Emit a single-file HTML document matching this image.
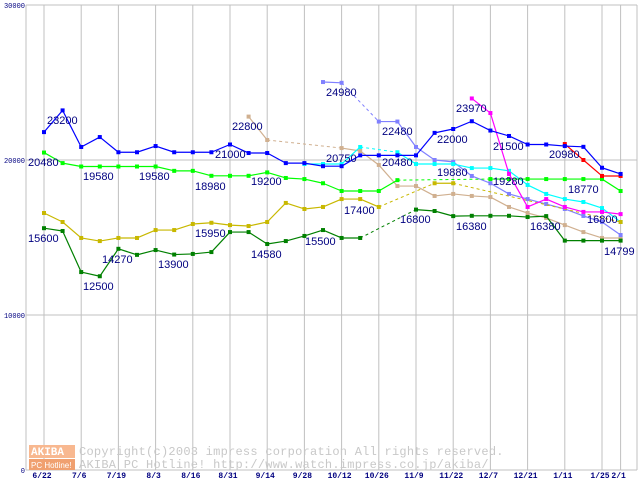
<!DOCTYPE html>
<html><head><meta charset="utf-8"><style>
body{margin:0;background:#fff}
svg{display:block;font-family:"Liberation Sans",sans-serif}
</style></head><body>
<svg id="chart" width="640" height="480" viewBox="0 0 640 480" xmlns="http://www.w3.org/2000/svg">
<g id="grid"></g>
<g id="watermark">
 <rect x="29" y="445" width="46" height="13" fill="#f8b890"/>
 <text x="31" y="455" font-size="11" fill="#fff" font-family="Liberation Mono, monospace" font-weight="bold">AKIBA</text>
 <rect x="29" y="459" width="46" height="11" fill="#f0a070"/>
 <text x="31" y="468" font-size="8" fill="#fff">PC Hotline!</text>
 <text x="79" y="455" font-size="12" fill="#c8c8c8" letter-spacing="0.25" font-family="Liberation Mono, monospace">Copyright(c)2003 impress corporation All rights reserved.</text>
 <text x="79" y="468" font-size="12" fill="#c8c8c8" letter-spacing="0.25" font-family="Liberation Mono, monospace">AKIBA PC Hotline!  http://www.watch.impress.co.jp/akiba/</text>
</g>
<g id="series"></g>
<g id="labels"></g>
</svg>
<script>
const xLabels=["6/22","7/6","7/19","8/3","8/16","8/31","9/14","9/28","10/12","10/26","11/9","11/22","12/7","12/21","1/11","1/25","2/1"];
const xLabelIdx=[0,2,4,6,8,10,12,14,16,18,20,22,24,26,28,30,31];
const yTicks=[0,10000,20000,30000];
const N=null;
const blue=[21800,23200,20840,21480,20500,20500,20900,20500,20500,20500,21000,20450,20450,19800,19800,19600,19600,20300,20300,20300,20300,21750,22000,22500,21900,21550,21000,21000,20900,20850,19500,19100];
const lime=[20480,19800,19580,19580,19580,19580,19580,19300,19300,18980,18980,18980,19200,18840,18770,18500,18000,18000,18000,18700,N,N,N,N,18770,18770,18770,18770,18770,18770,18770,18000];
const olive=[16580,16000,14970,14770,14970,14970,15480,15480,15870,15950,15800,15740,16000,17230,16840,16970,17480,17480,16970,N,N,18500,18500,N,N,N,N,N,N,N,N,16000];
const dgreen=[15600,15420,12770,12500,14270,13880,14190,13900,13940,14060,15350,15350,14580,14770,15100,15480,14970,14970,N,N,16800,16710,16380,16400,16400,16400,16320,16380,14799,14799,14799,14799];
const tan=[N,N,N,N,N,N,N,N,N,N,N,22800,21290,N,N,N,20770,20580,19680,18320,18320,17680,17810,17680,17610,16970,16580,16260,15800,15350,14970,14970];
const peri=[N,N,N,N,N,N,N,N,N,N,N,N,N,N,N,25030,24980,N,22480,22480,20840,20000,19880,18970,18500,17810,17480,17160,16840,16390,16000,15160];
const cyan=[N,N,N,N,N,N,N,N,N,N,N,N,N,N,19740,19740,19740,20840,N,20500,19740,19740,19740,19480,19480,19300,18390,17810,17480,17290,16900,16000];
const magenta=[N,N,N,N,N,N,N,N,N,N,N,N,N,N,N,N,N,N,N,N,N,N,N,23970,23030,19100,16970,17480,16970,16650,16650,16510];
const red=[N,N,N,N,N,N,N,N,N,N,N,N,N,N,N,N,N,N,N,N,N,N,N,N,N,N,N,N,21030,20000,18970,18970];
const seriesList=[["tan",tan,"#d0b090"],["periwinkle",peri,"#8080ff"],["cyan",cyan,"#00ffff"],["olive",olive,"#c8b800"],["lime",lime,"#00ff00"],["dark-green",dgreen,"#008000"],["magenta",magenta,"#ff00ff"],["red",red,"#ff0000"],["blue",blue,"#0000ff"]];
const labelText=["23200","22800","20480","21000","19580","19580","18980","19200","15600","15950","14270","13900","14580","12500","15500","24980","22480","20750","20480","22000","23970","19880","21500","19280","20980","17400","16800","16380","16380","18770","16800","14799"];
const labelPos=[[47,124],[232,130],[28,166],[215,158],[83,180],[139,180],[195,190],[251,185],[28,242],[195,237],[102,263],[158,268],[251,258],[83,290],[305,245],[326,96],[382,135],[326,162],[382,166],[437,143],[456,112],[437,176],[493,150],[493,185],[549,158],[344,214],[400,223],[456,230],[530,230],[568,193],[587,223],[604,255]];
const NS="http://www.w3.org/2000/svg";
const X=i=>44+18.6*i, Y=v=>470-v*0.0155;
function mk(t,a,p){const e=document.createElementNS(NS,t);for(const k in a)e.setAttribute(k,a[k]);p.appendChild(e);return e;}
const grid=document.getElementById('grid');
const gx=[26].concat(xLabelIdx.map(X)).concat([637]);
gx.forEach(x=>{const l=mk('line',{x1:x,x2:x,y1:5,y2:470,stroke:'#c0c0c0','stroke-width':1},grid);

});
yTicks.forEach(v=>{const l=mk('line',{x1:26,x2:637,y1:Y(v),y2:Y(v),stroke:'#c0c0c0','stroke-width':1},grid);


const t=mk('text',{x:25,y:Y(v)+3,'font-size':7,'text-anchor':'end',fill:'#000080','font-family':'Liberation Mono, monospace'},grid);t.textContent=v;

});
xLabels.forEach((s,k)=>{const t=mk('text',{x:X(xLabelIdx[k])-2,y:478,'font-size':8,'text-anchor':'middle',fill:'#000080','font-weight':'bold','font-family':'Liberation Mono, monospace'},grid);t.textContent=s;

});
const sl=document.getElementById('series');
seriesList.forEach(([name,vals,col])=>{const g=mk('g',{},sl);


let prev=-1;
vals.forEach((v,i)=>{if(v===null)return;
if(prev>=0){const gap=i-prev>1;mk('line',{x1:X(prev),y1:Y(vals[prev]),x2:X(i),y2:Y(v),stroke:col,'stroke-width':gap?1:1.2,'stroke-dasharray':gap?'3,3':'none'},g);}
prev=i;});
vals.forEach((v,i)=>{if(v===null)return;const r=mk('rect',{x:X(i)-2,y:Y(v)-2,width:4,height:4,fill:col},g);

});});
const lg=document.getElementById('labels');
labelText.forEach((s,k)=>{const t=mk('text',{x:labelPos[k][0],y:labelPos[k][1],'font-size':11,fill:'#000080'},lg);t.textContent=s;

});
</script>
</body></html>
